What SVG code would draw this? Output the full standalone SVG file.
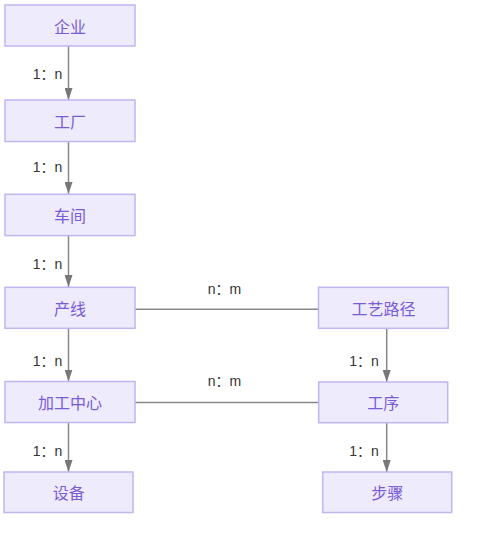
<svg xmlns="http://www.w3.org/2000/svg" width="481" height="533" viewBox="0 0 481 533">
<style>
.box{fill:#EEEBFC;stroke:#C3B4F2;stroke-width:1.5}
.nt{font-family:"Noto Sans CJK SC","Noto Sans",sans-serif;font-size:16px;fill:#7A5CD6;text-anchor:middle;dominant-baseline:central}
.lbl{font-family:"Liberation Sans","Noto Sans CJK SC",sans-serif;font-size:14px;fill:#333;text-anchor:middle}
.ln{stroke:#888;stroke-width:1.5;fill:none}
</style>
<defs>
<marker id="ah" markerWidth="12" markerHeight="8" refX="12" refY="4" orient="auto" markerUnits="userSpaceOnUse">
<path d="M0,0 L12,4 L0,8 z" fill="#777"/>
</marker>
</defs>
<rect width="481" height="533" fill="#fff"/>
<g id="connectors">
<line class="ln" x1="68.5" y1="46" x2="68.5" y2="100" marker-end="url(#ah)"/>
<line class="ln" x1="68.5" y1="141.5" x2="68.5" y2="194" marker-end="url(#ah)"/>
<line class="ln" x1="68.5" y1="235.5" x2="68.5" y2="287" marker-end="url(#ah)"/>
<line class="ln" x1="68.5" y1="328.5" x2="68.5" y2="381.5" marker-end="url(#ah)"/>
<line class="ln" x1="68.5" y1="422.5" x2="68.5" y2="472" marker-end="url(#ah)"/>
<line class="ln" x1="386.7" y1="328.5" x2="386.7" y2="382" marker-end="url(#ah)"/>
<line class="ln" x1="386.7" y1="422.5" x2="386.7" y2="472" marker-end="url(#ah)"/>
<line class="ln" x1="135" y1="309.3" x2="318.5" y2="309.3"/>
<line class="ln" x1="135" y1="402.5" x2="318.5" y2="402.5"/>
<text class="lbl" x="47.5" y="79">1：n</text>
<text class="lbl" x="47.5" y="172">1：n</text>
<text class="lbl" x="47.5" y="268.5">1：n</text>
<text class="lbl" x="47.5" y="366">1：n</text>
<text class="lbl" x="47.5" y="456">1：n</text>
<text class="lbl" x="364" y="366">1：n</text>
<text class="lbl" x="364" y="456">1：n</text>
<text class="lbl" x="224.5" y="293.5">n：m</text>
<text class="lbl" x="224.5" y="385.5">n：m</text>
</g>
<g id="n1"><rect class="box" x="5" y="5" width="130" height="41"/><text class="nt" x="70" y="25.5">企业</text></g>
<g id="n2"><rect class="box" x="5" y="100" width="130" height="41.5"/><text class="nt" x="70" y="121">工厂</text></g>
<g id="n3"><rect class="box" x="5" y="194.3" width="130" height="41.3"/><text class="nt" x="70" y="215">车间</text></g>
<g id="n4"><rect class="box" x="5" y="287.3" width="130" height="41"/><text class="nt" x="70" y="308">产线</text></g>
<g id="n5"><rect class="box" x="5" y="381.5" width="130" height="41"/><text class="nt" x="70" y="402">加工中心</text></g>
<g id="n6"><rect class="box" x="4" y="472" width="129" height="40.5"/><text class="nt" x="68.7" y="492">设备</text></g>
<g id="n7"><rect class="box" x="318.5" y="287.3" width="129.8" height="41"/><text class="nt" x="383.4" y="308">工艺路径</text></g>
<g id="n8"><rect class="box" x="318.7" y="382" width="129" height="40.7"/><text class="nt" x="383.2" y="402.3">工序</text></g>
<g id="n9"><rect class="box" x="322.7" y="472" width="129" height="40.5"/><text class="nt" x="387.2" y="492">步骤</text></g>
</svg>
